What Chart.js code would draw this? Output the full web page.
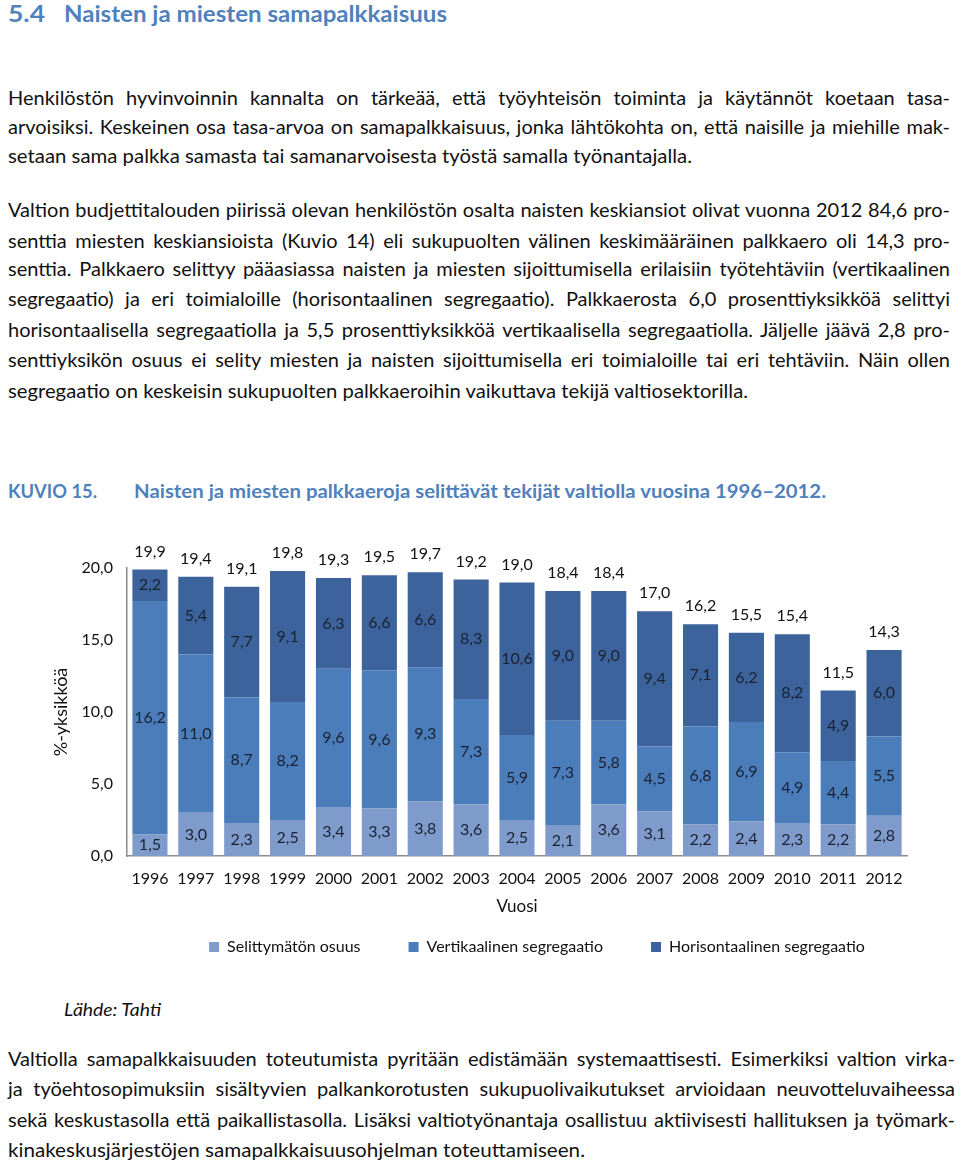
<!DOCTYPE html>
<html lang="fi">
<head>
<meta charset="utf-8">
<title>Naisten ja miesten samapalkkaisuus</title>
<script src="https://cdn.jsdelivr.net/npm/chart.js@4"></script>
<style>
  html, body { margin: 0; padding: 0; background: #fff; overflow: hidden; }
  body { width: 960px; height: 1161px; position: relative; font-family: 'Lato', sans-serif; color: #111; }
  .ln { position: absolute; height: 30px; line-height: 30px; font-size: 20px; white-space: nowrap; }
  .ln span { display: inline-block; white-space: nowrap; }
  .blue { color: #4F81BD; font-weight: bold; }
  .h1 { font-size: 22px; }
  .cap { font-size: 18px; }
  #chartWrap { position: absolute; left: 0; top: 520px; width: 1074px; height: 445px; }
</style>
</head>
<body>

<!-- heading -->
<div class="ln blue h1" style="left:8px;top:-1px"><span data-w="37">5.4</span></div>
<div class="ln blue h1" style="left:64px;top:-1px"><span data-w="383">Naisten ja miesten samapalkkaisuus</span></div>

<!-- paragraph 1 -->
<div class="ln" style="left:8px;top:82px"><span data-w="942" data-j="1">Henkilöstön hyvinvoinnin kannalta on tärkeää, että työyhteisön toiminta ja käytännöt koetaan tasa-</span></div>
<div class="ln" style="left:8px;top:111px"><span data-w="942" data-j="1">arvoisiksi. Keskeinen osa tasa-arvoa on samapalkkaisuus, jonka lähtökohta on, että naisille ja miehille mak-</span></div>
<div class="ln" style="left:8px;top:140px"><span data-w="684">setaan sama palkka samasta tai samanarvoisesta työstä samalla työnantajalla.</span></div>

<!-- paragraph 2 -->
<div class="ln" style="left:8px;top:194px"><span data-w="942" data-j="1">Valtion budjettitalouden piirissä olevan henkilöstön osalta naisten keskiansiot olivat vuonna 2012 84,6 pro-</span></div>
<div class="ln" style="left:8px;top:225px"><span data-w="942" data-j="1">senttia miesten keskiansioista (Kuvio 14) eli sukupuolten välinen keskimääräinen palkkaero oli 14,3 pro-</span></div>
<div class="ln" style="left:8px;top:253px"><span data-w="942" data-j="1">senttia. Palkkaero selittyy pääasiassa naisten ja miesten sijoittumisella erilaisiin työtehtäviin (vertikaalinen</span></div>
<div class="ln" style="left:8px;top:283px"><span data-w="942" data-j="1">segregaatio) ja eri toimialoille (horisontaalinen segregaatio). Palkkaerosta 6,0 prosenttiyksikköä selittyi</span></div>
<div class="ln" style="left:8px;top:314px"><span data-w="942" data-j="1">horisontaalisella segregaatiolla ja 5,5 prosenttiyksikköä vertikaalisella segregaatiolla. Jäljelle jäävä 2,8 pro-</span></div>
<div class="ln" style="left:8px;top:344px"><span data-w="942" data-j="1">senttiyksikön osuus ei selity miesten ja naisten sijoittumisella eri toimialoille tai eri tehtäviin. Näin ollen</span></div>
<div class="ln" style="left:8px;top:375px"><span data-w="740">segregaatio on keskeisin sukupuolten palkkaeroihin vaikuttava tekijä valtiosektorilla.</span></div>

<!-- figure caption -->
<div class="ln blue cap" style="left:8px;top:476px"><span data-w="89">KUVIO 15.</span></div>
<div class="ln blue cap" style="left:134px;top:476px"><span data-w="692">Naisten ja miesten palkkaeroja selittävät tekijät valtiolla vuosina 1996–2012.</span></div>

<div id="chartWrap"><canvas id="gapChart" width="1074" height="445"></canvas></div>

<div class="ln" style="left:64px;top:995px;font-style:italic;font-size:17px"><span data-w="97">Lähde: Tahti</span></div>

<!-- paragraph 3 -->
<div class="ln" style="left:8px;top:1043px"><span data-w="947" data-j="1">Valtiolla samapalkkaisuuden toteutumista pyritään edistämään systemaattisesti. Esimerkiksi valtion virka-</span></div>
<div class="ln" style="left:8px;top:1073px"><span data-w="947" data-j="1">ja työehtosopimuksiin sisältyvien palkankorotusten sukupuolivaikutukset arvioidaan neuvotteluvaiheessa</span></div>
<div class="ln" style="left:8px;top:1104px"><span data-w="947" data-j="1">sekä keskustasolla että paikallistasolla. Lisäksi valtiotyönantaja osallistuu aktiivisesti hallituksen ja työmark-</span></div>
<div class="ln" style="left:8px;top:1134px"><span data-w="577">kinakeskusjärjestöjen samapalkkaisuusohjelman toteuttamiseen.</span></div>

<script>
// ---- DATA ----
const years = ['1996','1997','1998','1999','2000','2001','2002','2003','2004',
               '2005','2006','2007','2008','2009','2010','2011','2012'];
const unexplained = [1.5, 3.0, 2.3, 2.5, 3.4, 3.3, 3.8, 3.6, 2.5, 2.1, 3.6, 3.1, 2.2, 2.4, 2.3, 2.2, 2.8];
const vertical    = [16.2, 11.0, 8.7, 8.2, 9.6, 9.6, 9.3, 7.3, 5.9, 7.3, 5.8, 4.5, 6.8, 6.9, 4.9, 4.4, 5.5];
const horizontal  = [2.2, 5.4, 7.7, 9.1, 6.3, 6.6, 6.6, 8.3, 10.6, 9.0, 9.0, 9.4, 7.1, 6.2, 8.2, 4.9, 6.0];
const totals      = [19.9, 19.4, 19.1, 19.8, 19.3, 19.5, 19.7, 19.2, 19.0, 18.4, 18.4, 17.0, 16.2, 15.5, 15.4, 11.5, 14.3];
const yTicks      = [0, 5, 10, 15, 20];

const FONT = "'Lato', sans-serif";
const fmt = v => v.toFixed(1).replace('.', ',');

// ---- text line fitting (justify / squeeze to the reference widths) ----
document.querySelectorAll('.ln span').forEach(el => {
  const target = +el.dataset.w;
  const w = el.getBoundingClientRect().width;
  if (el.dataset.j && w < target) {
    const gaps = (el.textContent.match(/ /g) || []).length;
    if (gaps) el.style.wordSpacing = ((target - w) / gaps) + 'px';
  } else {
    el.style.transformOrigin = 'left center';
    el.style.transform = 'scaleX(' + (target / w) + ')';
  }
});

// ---- value labels inside segments and totals on top ----
const valueLabels = {
  id: 'valueLabels',
  afterDatasetsDraw(chart) {
    const ctx = chart.ctx;
    ctx.save();
    ctx.font = `16px ${FONT}`;
    ctx.fillStyle = '#1b2233';
    ctx.textAlign = 'center';
    ctx.textBaseline = 'middle';
    chart.data.datasets.forEach((ds, di) => {
      chart.getDatasetMeta(di).data.forEach((bar, i) => {
        ctx.fillText(fmt(ds.data[i]), bar.x, (bar.y + bar.base) / 2);
      });
    });
    ctx.fillStyle = '#111';
    const top = chart.getDatasetMeta(2).data;
    top.forEach((bar, i) => {
      ctx.fillText(fmt(totals[i]), bar.x, bar.y - 18);
    });
    ctx.restore();
  }
};

new Chart(document.getElementById('gapChart'), {
  type: 'bar',
  data: {
    labels: years,
    datasets: [
      { label: 'Selittymätön osuus', data: unexplained, backgroundColor: '#7F9BCB' },
      { label: 'Vertikaalinen segregaatio', data: vertical, backgroundColor: '#4A7DBA' },
      { label: 'Horisontaalinen segregaatio', data: horizontal, backgroundColor: '#3C639B' }
    ]
  },
  options: {
    responsive: false,
    animation: false,
    datasets: { bar: { categoryPercentage: 1.0, barPercentage: 0.765 } },
    layout: { padding: { top: 48, right: 0, left: 0, bottom: 0 } },
    scales: {
      x: {
        stacked: true,
        grid: { display: false, drawTicks: false },
        border: { color: '#8c8c8c', width: 1.5 },
        ticks: { color: '#111', font: { family: FONT, size: 16 }, padding: 13 },
        title: { display: true, text: 'Vuosi', color: '#111', font: { family: FONT, size: 17 },
                 padding: { top: 0, bottom: -26 } },
        afterFit: a => { a.height = 35; }
      },
      y: {
        stacked: true,
        min: 0,
        max: 20,
        afterBuildTicks: a => { a.ticks = yTicks.map(v => ({ value: v })); },
        grid: { display: false, drawTicks: false },
        border: { color: '#8c8c8c', width: 1.5 },
        ticks: { color: '#111', font: { family: FONT, size: 16 }, padding: 14, callback: v => fmt(v) },
        title: { display: true, text: '%-yksikköä', color: '#111', font: { family: FONT, size: 18 },
                 padding: { top: 50, bottom: 0 } },
        afterFit: a => { a.width = 127; }
      },
      // empty right-hand spacer so the legend stays centred on the whole figure
      spacer: {
        position: 'right',
        grid: { display: false, drawTicks: false },
        border: { display: false },
        ticks: { display: false },
        afterFit: a => { a.width = 167; }
      }
    },
    plugins: {
      legend: {
        position: 'bottom',
        labels: {
          color: '#111',
          font: { family: FONT, size: 16 },
          boxWidth: 10,
          boxHeight: 10,
          padding: 48
        }
      },
      tooltip: { enabled: false }
    }
  },
  plugins: [valueLabels]
});
</script>
</body>
</html>
